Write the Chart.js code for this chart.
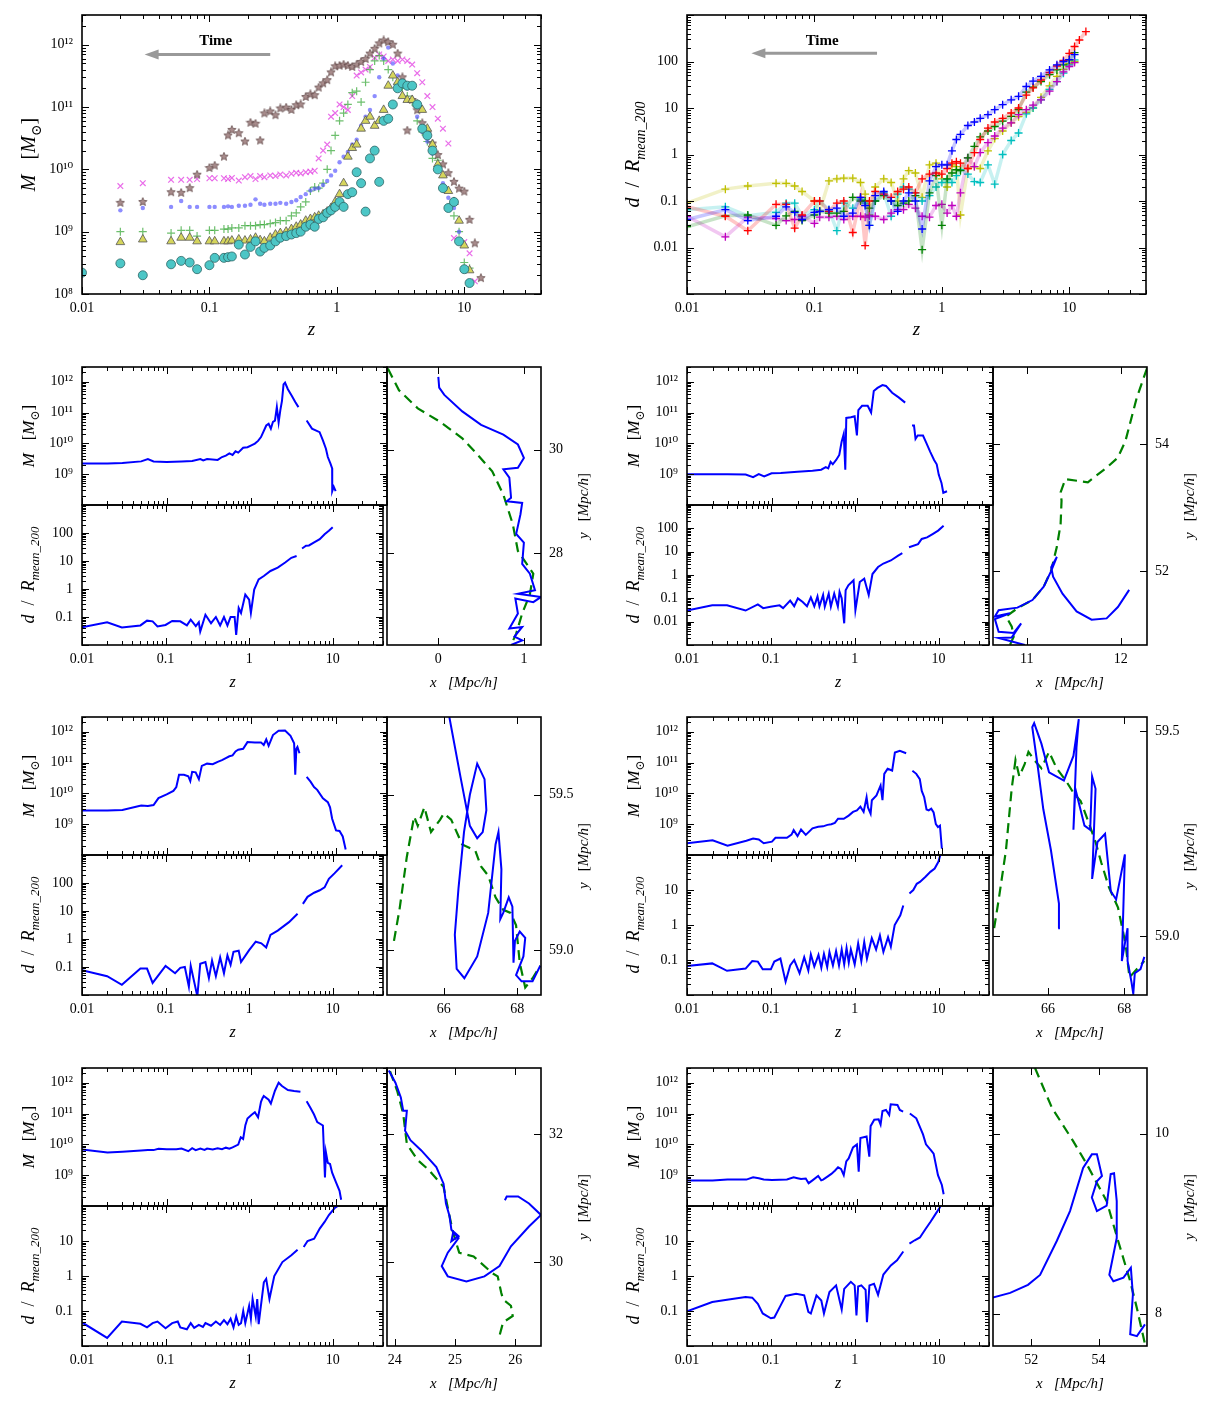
<!DOCTYPE html>
<html>
<head>
<meta charset="utf-8">
<title>Halo mass and distance histories</title>
<script src="https://cdn.jsdelivr.net/npm/chart.js@4.4.1/dist/chart.umd.min.js"></script>
<style>
  body { margin: 0; background: #fff; }
  #fig { position: relative; width: 1221px; height: 1405px; background: #fff; overflow: hidden; }
  #fig canvas { position: absolute; }
</style>
</head>
<body>
<div id="fig"></div>
<script>
// top left: mass of six haloes vs redshift
const zTop = [0.01, 0.02, 0.03, 0.05, 0.06, 0.07, 0.08, 0.1, 0.11, 0.13,
  0.14, 0.15, 0.17, 0.19, 0.21, 0.23, 0.25, 0.27, 0.3, 0.33,
  0.36, 0.4, 0.44, 0.48, 0.52, 0.57, 0.62, 0.67, 0.72, 0.78,
  0.84, 0.9, 0.97, 1.05, 1.13, 1.22, 1.32, 1.43, 1.55, 1.68,
  1.82, 1.98, 2.15, 2.33, 2.53, 2.75, 3.0, 3.27, 3.57, 3.9,
  4.27, 4.68, 5.13, 5.63, 6.2, 6.8, 7.5, 8.3, 9.1, 10.0,
  11.0, 12.1, 13.5];

const massCross = [null, 5.4e9, 6.0e9, 6.8e9, 6.8e9, 6.8e9, 7.0e9, 7.2e9, 7.2e9, 7.2e9,
  7.0e9, 7.3e9, 6.6e9, 7.5e9, 7.8e9, 7.0e9, 7.8e9, 7.5e9, 8.0e9, 7.8e9,
  8.3e9, 8.0e9, 8.5e9, 8.8e9, 8.6e9, 9.0e9, 9.2e9, 9.5e9, 1.5e10, 2.0e10,
  2.5e10, 7.0e10, 8.0e10, 1.1e11, 1.0e11, 9.0e10, 1.5e11, 3.2e11, 3.6e11, 4.0e11,
  4.4e11, 6.2e11, 7.0e11, 6.5e11, 5.5e11, 5.8e11, 5.5e11, 5.8e11, 5.5e11, 4.8e11,
  3.5e11, 2.5e11, 1.5e11, 1.0e11, 6.5e10, 4.5e10, 2.6e10, 7.9e8, null, 6.8e8,
  4.5e8, 1.6e8, null];
const massStar = [null, 2.9e9, 3.0e9, 4.3e9, 4.2e9, 5.0e9, 8.2e9, 1.05e10, 1.15e10, 1.6e10,
  3.5e10, 4.3e10, 3.8e10, 2.8e10, 5.6e10, 5.4e10, 2.9e10, 7.9e10, 8.5e10, 7.4e10,
  9.5e10, 9.8e10, 9.0e10, 1.07e11, 1.1e11, 1.45e11, 1.6e11, 1.55e11, 2.05e11, 2.4e11,
  2.7e11, 3.6e11, 4.5e11, 4.6e11, 4.8e11, 4.6e11, 4.4e11, 4.8e11, 5.3e11, 5.9e11,
  7.2e11, 8.6e11, 1.05e12, 1.17e12, 1.1e12, 1.0e12, 7.2e11, 3.0e11, 4.2e10, 1.3e11,
  8.9e10, 5.5e10, 3.8e10, 2.6e10, 1.7e10, 1.2e10, 8.7e9, 6.3e9, 4.9e9, 4.4e9,
  1.55e9, 6.5e8, 1.8e8];
const massDot = [null, 2.2e9, 2.4e9, 2.5e9, 3.1e9, 2.5e9, 2.5e9, 2.5e9, 2.5e9, 2.5e9,
  2.55e9, 2.5e9, 2.6e9, 2.6e9, 2.7e9, 3.3e9, 2.8e9, 2.7e9, 2.8e9, 2.8e9,
  2.9e9, 2.8e9, 3.0e9, 3.2e9, 3.6e9, 4.0e9, 4.6e9, 4.9e9, 5.0e9, 5.6e9,
  6.5e9, 8.0e9, 9.5e9, 1.3e10, 1.6e10, 1.9e10, 2.5e10, 3.0e10, 5.0e10, 7.0e10,
  9.0e10, 1.5e11, 3.0e11, 6.0e11, 9.0e11, 5.0e11, 3.2e11, 2.6e11, 2.0e11, 1.3e11,
  7.0e10, 4.0e10, 2.8e10, 1.8e10, 1.2e10, 6.0e9, 3.5e9, 2.4e9, 1.0e9, 2.6e8,
  null, null, null];
const massPlus = [null, 1.0e9, 1.0e9, 9.5e8, 1.05e9, 1.05e9, 8.5e8, 1.05e9, 1.05e9, 1.1e9,
  1.1e9, 1.15e9, 1.15e9, 1.25e9, 1.25e9, 1.25e9, 1.3e9, 1.3e9, 1.35e9, 1.4e9,
  1.5e9, 1.5e9, 1.8e9, 2.0e9, 2.5e9, 3.0e9, 4.5e9, 5.2e9, 5.0e9, 6.0e9,
  1.0e10, 2.0e10, 3.5e10, 6.0e10, 8.0e10, 1.1e11, 1.7e11, 1.8e11, 1.2e11, 2.5e11,
  4.0e11, 5.5e11, 6.7e11, 5.5e11, 4.0e11, 3.0e11, 2.4e11, 2.0e11, 1.5e11, 1.2e11,
  6.0e10, 4.0e10, 2.8e10, 1.5e10, 1.4e10, 5.0e9, 2.5e9, 1.8e9, 1.0e9, 3.2e8,
  2.6e8, null, null];
const massTri = [null, 6.8e8, 7.5e8, 7.0e8, 8.0e8, 8.0e8, 7.0e8, 7.0e8, 7.0e8, 7.0e8,
  7.0e8, 7.2e8, 7.5e8, 7.2e8, 7.5e8, 8.0e8, 7.3e8, 7.0e8, 8.0e8, 9.0e8,
  9.5e8, 1.0e9, 1.1e9, 1.2e9, 1.3e9, 1.5e9, 1.6e9, 1.7e9, 1.8e9, 1.9e9,
  2.1e9, 2.4e9, 3.0e9, 4.0e9, 6.0e9, 1.6e10, 2.2e10, 2.5e10, 4.5e10, 6.0e10,
  7.0e10, 5.0e10, 6.0e10, 9.0e10, 2.2e11, 3.2e11, 2.5e11, 1.5e11, 1.3e11, 1.3e11,
  1.1e11, 9.0e10, 4.5e10, 2.5e10, 1.2e10, 8.0e9, 4.5e9, 3.0e9, 1.5e9, 6.0e8,
  2.4e8, null, null];
const massCirc = [2.2e8, 3.1e8, 2.0e8, 3.0e8, 3.4e8, 3.2e8, 2.5e8, 2.9e8, 3.8e8, 3.8e8,
  3.9e8, 4.0e8, 6.2e8, 4.3e8, 5.7e8, 7.0e8, 4.8e8, 5.5e8, 6.0e8, 7.0e8,
  8.0e8, 8.5e8, 9.0e8, 9.5e8, 1.0e9, 1.2e9, 1.3e9, 1.2e9, 1.6e9, 1.7e9,
  2.0e9, 2.2e9, 2.5e9, 3.0e9, 2.5e9, 4.0e9, 4.3e9, 9.0e9, 6.0e9, 2.1e9,
  1.5e10, 2.0e10, 6.3e9, 6.0e10, 6.5e10, 1.1e11, 2.0e11, 2.4e11, 2.2e11, 2.2e11,
  1.1e11, 4.5e10, 3.5e10, 2.0e10, 1.0e10, 5.0e9, 2.4e9, 3.0e9, 7.0e8, 2.5e8,
  1.5e8, null, null];

// top right: distance in units of R_mean_200
const zDist = [0.01, 0.02, 0.03, 0.05, 0.06, 0.07, 0.08, 0.1, 0.11, 0.13,
  0.15, 0.17, 0.2, 0.23, 0.25, 0.27, 0.3, 0.35, 0.4, 0.45,
  0.5, 0.55, 0.62, 0.7, 0.8, 0.9, 1.0, 1.1, 1.2, 1.3,
  1.4, 1.6, 1.8, 2.0, 2.3, 2.6, 3.0, 3.5, 4.0, 4.6,
  5.2, 6.0, 7.0, 8.0, 9.0, 10.0, 11.0, 12.0, 13.5];

const distYellow = [0.09, 0.18, 0.21, 0.24, 0.24, 0.21, 0.16, 0.1, 0.06, 0.27,
  0.3, 0.31, 0.31, 0.25, 0.14, 0.05, 0.2, 0.3, 0.25, 0.1,
  0.3, 0.45, 0.4, 0.12, 0.6, 0.65, 0.3, 0.2, 0.6, 0.55,
  0.05, 0.5, 0.55, 0.5, 1.2, 2.2, 3.2, 4.8, 6.5, 8,
  10, 17, 30, 48, 68, 90, 100, null, null];
const distRed = [0.075, 0.047, 0.023, 0.085, 0.085, 0.026, 0.05, 0.1, 0.1, 0.06,
  0.09, 0.1, 0.021, 0.12, 0.011, 0.1, 0.16, 0.14, 0.12, 0.16,
  0.18, 0.2, 0.15, 0.3, 0.38, 0.4, 0.38, 0.5, 0.65, 0.7,
  0.65, 0.5, 1.1, 2.1, 3.7, 5, 6, 7.8, 10, 19,
  27, 40, 58, 80, 105, 150, 210, 290, 440];
const distBlue = [0.04, 0.065, 0.038, 0.047, 0.075, 0.057, 0.04, 0.057, 0.06, 0.065,
  0.07, 0.047, 0.055, 0.12, 0.08, 0.03, 0.13, 0.16, 0.1, 0.06,
  0.1, 0.15, 0.1, 0.025, 0.27, 0.55, 0.6, 0.6, 1.2, 2.1,
  2.7, 4.2, 5, 6, 7.2, 9.2, 11.8, 15, 17.8, 29,
  38, 48, 66, 85, 100, 110, 140, null, null];
const distGreen = [0.028, 0.048, 0.05, 0.03, 0.048, 0.06, 0.038, 0.05, 0.06, 0.055,
  0.055, 0.06, 0.12, 0.1, 0.1, 0.07, 0.1, 0.13, 0.1, 0.08,
  0.09, 0.1, 0.13, 0.009, 0.15, 0.35, 0.03, 0.3, 0.4, 0.47,
  0.45, 0.85, 1.5, 2.4, 3.2, 4, 5.2, 6.6, 9.2, 22,
  28, 37, 52, 66, 85, 108, 155, null, null];
const distCyan = [0.065, 0.075, 0.048, 0.057, 0.09, 0.09, 0.048, 0.065, 0.1, 0.065,
  0.023, 0.09, 0.07, 0.11, 0.09, 0.03, 0.1, 0.15, 0.047, 0.14,
  0.2, 0.18, 0.15, 0.1, 0.13, 0.2, 0.25, 0.29, 0.25, 0.35,
  0.47, 0.38, 0.26, 0.25, 0.6, 0.23, 1.0, 2.0, 2.9, 7.5,
  10, 15, 25, 37, 56, 85, 108, null, null];
const distMagenta = [0.047, 0.017, 0.045, 0.042, 0.038, 0.04, 0.047, 0.033, 0.045, 0.045,
  0.047, 0.04, 0.047, 0.047, 0.045, 0.048, 0.047, 0.04, 0.055, 0.065,
  0.065, 0.085, 0.07, 0.047, 0.045, 0.08, 0.085, 0.055, 0.08, 0.047,
  0.15, 0.85, 0.55, 1.1, 1.8, 2.5, 3.7, 4.8, 7.2, 9.2,
  11.5, 15, 23, 37, 60, 78, 95, null, null];

// tick labels
const zLabels = [0.01, 0.1, 1, 10];
const massLabelsTop = [1e8, 1e9, 1e10, 1e11, 1e12];
const massLabels = [1e9, 1e10, 1e11, 1e12];
const distLabelsTop = [0.01, 0.1, 1, 10, 100];

// six single haloes: [z, value] pairs, null marks the break in the track
const massA = [[0.01, 2.2e9], [0.02, 2.2e9], [0.03, 2.3e9], [0.05, 2.6e9], [0.06, 3.1e9], [0.07, 2.6e9], [0.1, 2.5e9], [0.15, 2.6e9], [0.2, 2.7e9], [0.25, 3.1e9], [0.27, 2.8e9], [0.3, 3.1e9], [0.4, 2.9e9], [0.45, 3.6e9], [0.5, 4.0e9], [0.55, 4.7e9], [0.6, 4.2e9], [0.65, 5.5e9], [0.7, 5.0e9], [0.8, 7.2e9], [0.9, 7.5e9], [1.0, 8.6e9], [1.1, 9.8e9], [1.2, 1.2e10], [1.3, 1.6e10], [1.5, 3.8e10], [1.6, 4.3e10], [1.7, 3.0e10], [1.8, 5.0e10], [1.9, 5.5e10], [2.0, 1.5e11], [2.1, 4.8e10], [2.2, 1.2e11], [2.3, 2.4e11], [2.4, 8.2e11], [2.5, 9.3e11], [2.7, 5.7e11], [3.0, 3.5e11], [3.3, 2.2e11], [3.6, 1.5e11], [4.0, null], [4.5, 5.5e10], [5.2, 3.0e10], [6.4, 2.3e10], [7.0, 1.25e10], [7.6, 6.7e9], [8.0, 3.6e9], [8.6, 2.2e9], [9.0, 1.55e9], [9.02, 2.8e8], [9.4, 3.9e8], [9.9, 2.8e8]];
const distA = [[0.01, 0.043], [0.02, 0.065], [0.03, 0.042], [0.05, 0.05], [0.06, 0.074], [0.07, 0.07], [0.08, 0.046], [0.1, 0.052], [0.12, 0.072], [0.15, 0.07], [0.18, 0.05], [0.2, 0.08], [0.23, 0.047], [0.25, 0.065], [0.26, 0.03], [0.3, 0.12], [0.35, 0.06], [0.4, 0.1], [0.45, 0.05], [0.5, 0.1], [0.55, 0.05], [0.6, 0.1], [0.67, 0.1], [0.7, 0.023], [0.75, 0.21], [0.8, 0.14], [0.9, 0.63], [1.0, 0.42], [1.05, 0.14], [1.15, 0.95], [1.3, 2.2], [1.5, 2.9], [1.8, 4.4], [2.2, 5.8], [2.7, 8.8], [3.2, 13], [3.7, 15], [4.0, null], [4.3, 28], [4.8, 35], [5.2, 36], [6.0, 46], [7.0, 60], [8.0, 90], [9.0, 120], [10.0, 160]];
const trackA = [[0, 31.41], [0.01, 31.2], [0.07, 31.06], [0.28, 30.74], [0.5, 30.48], [0.76, 30.29], [0.93, 30.1], [1.0, 29.84], [0.93, 29.65], [0.76, 29.62], [0.83, 29.46], [0.85, 29.07], [0.8, 29.0], [0.98, 28.97], [0.96, 28.75], [0.91, 28.37], [1.0, 28.2], [0.98, 27.79], [1.07, 27.6], [1.13, 27.28], [0.93, 27.21], [1.2, 27.15], [1.11, 27.05], [0.9, 27.12], [0.93, 26.83], [0.83, 26.54], [0.98, 26.57], [0.89, 26.38], [0.98, 26.31], [0.85, 26.22]];
const refA = [[-0.59, 31.57], [-0.46, 31.15], [-0.24, 30.8], [0.02, 30.54], [0.28, 30.22], [0.46, 29.9], [0.63, 29.58], [0.76, 29.13], [0.87, 28.56], [0.93, 28.04], [1.11, 27.6], [1.07, 27.2], [0.98, 26.83], [0.91, 26.44], [0.85, 26.22]];

const massB = [[0.01, 1.0e9], [0.02, 1.0e9], [0.03, 1.0e9], [0.049, 9.7e8], [0.06, 8.0e8], [0.07, 1.0e9], [0.081, 8.4e8], [0.099, 1.07e9], [0.127, 1.1e9], [0.2, 1.2e9], [0.3, 1.3e9], [0.38, 1.4e9], [0.43, 1.7e9], [0.46, 1.55e9], [0.49, 2.5e9], [0.52, 2.1e9], [0.57, 2.9e9], [0.62, 4.2e9], [0.66, 1.1e10], [0.7, 2.0e10], [0.73, 1.4e9], [0.75, 6.7e10], [0.85, 7.0e10], [0.94, 7.6e10], [1.0, 1.8e10], [1.04, 1.2e11], [1.15, 1.66e11], [1.34, 1.66e11], [1.47, 1.0e11], [1.58, 5.0e11], [1.75, 6.3e11], [2.0, 7.8e11], [2.2, 7.3e11], [2.6, 4.4e11], [3.1, 3.1e11], [3.7, 2.1e11], [4.0, null], [4.45, 3.8e10], [4.7, 3.8e10], [4.9, 1.4e10], [5.2, 1.8e10], [6.0, 1.8e10], [6.6, 1.0e10], [7.3, 5.3e9], [8.1, 2.9e9], [8.7, 2.1e9], [9.2, 9.5e8], [9.9, 5.2e8], [10.4, 2.5e8], [11.5, 2.8e8]];
const distB = [[0.01, 0.03], [0.02, 0.05], [0.03, 0.05], [0.05, 0.03], [0.07, 0.055], [0.081, 0.038], [0.099, 0.044], [0.127, 0.05], [0.14, 0.038], [0.17, 0.08], [0.19, 0.046], [0.21, 0.1], [0.24, 0.07], [0.27, 0.046], [0.3, 0.11], [0.33, 0.046], [0.36, 0.12], [0.38, 0.046], [0.42, 0.14], [0.44, 0.044], [0.49, 0.16], [0.52, 0.044], [0.57, 0.16], [0.63, 0.044], [0.66, 0.19], [0.7, 0.1], [0.75, 0.0085], [0.78, 0.22], [0.84, 0.36], [0.97, 0.6], [1.02, 0.031], [1.15, 0.5], [1.3, 0.7], [1.47, 0.14], [1.63, 1.1], [1.9, 2.2], [2.2, 3.1], [2.7, 4.2], [3.3, 6.8], [3.7, 8.6], [4.0, null], [4.45, 15.5], [5.7, 21], [6.3, 35], [7.3, 41], [8.5, 57], [9.9, 80], [11.5, 130]];
const trackB = [[12.09, 51.7], [11.97, 51.43], [11.85, 51.25], [11.69, 51.23], [11.53, 51.36], [11.38, 51.64], [11.28, 51.91], [11.26, 52.06], [11.32, 52.22], [11.26, 52.0], [11.18, 51.75], [11.06, 51.54], [10.9, 51.42], [10.7, 51.38], [10.66, 51.28], [10.82, 51.33], [10.66, 51.24], [10.7, 51.04], [10.86, 51.02], [10.94, 51.17], [10.84, 50.95], [10.7, 50.94], [10.98, 50.83]];
const refB = [[12.28, 55.2], [12.17, 54.73], [12.05, 54.05], [11.97, 53.79], [11.85, 53.63], [11.65, 53.4], [11.41, 53.45], [11.36, 53.24], [11.37, 53.11], [11.36, 52.74], [11.32, 52.38], [11.26, 52.01], [11.18, 51.75], [11.06, 51.54], [10.9, 51.41], [10.78, 51.28], [10.84, 51.12], [10.86, 50.96], [10.82, 50.83]];

const massC = [[0.01, 2.8e9], [0.02, 2.8e9], [0.03, 2.9e9], [0.05, 4.0e9], [0.06, 3.9e9], [0.07, 4.2e9], [0.08, 7.0e9], [0.1, 9.2e9], [0.12, 1.2e10], [0.13, 1.6e10], [0.14, 4.0e10], [0.16, 4.0e10], [0.18, 3.6e10], [0.19, 2.5e10], [0.2, 5.0e10], [0.22, 4.8e10], [0.24, 2.9e10], [0.26, 7.8e10], [0.3, 9.2e10], [0.35, 8.8e10], [0.4, 1.05e11], [0.45, 1.2e11], [0.5, 1.4e11], [0.55, 1.6e11], [0.6, 1.7e11], [0.65, 2.3e11], [0.7, 2.6e11], [0.8, 2.8e11], [0.9, 4.6e11], [1.1, 4.5e11], [1.3, 4.5e11], [1.4, 3.7e11], [1.5, 5.6e11], [1.6, 3.5e11], [1.8, 7.8e11], [2.1, 1.07e12], [2.5, 1.1e12], [2.9, 7.3e11], [3.2, 4.2e11], [3.3, 4.0e10], [3.4, 2.8e11], [3.5, 3.2e11], [3.7, 2.0e11], [4.0, null], [4.5, 3.4e10], [5.0, 2.4e10], [5.5, 1.6e10], [6.0, 1.3e10], [7.0, 6.9e9], [8.0, 5.2e9], [8.5, 3.5e9], [9.0, 1.5e9], [10.0, 6.3e8], [11.0, 6.0e8], [12.0, 4.0e8], [13.0, 1.5e8]];
const distC = [[0.01, 0.076], [0.02, 0.047], [0.03, 0.023], [0.05, 0.088], [0.06, 0.088], [0.07, 0.027], [0.1, 0.11], [0.13, 0.06], [0.15, 0.093], [0.17, 0.1], [0.19, 0.02], [0.2, 0.11], [0.24, 0.009], [0.26, 0.13], [0.3, 0.15], [0.33, 0.04], [0.36, 0.17], [0.4, 0.047], [0.45, 0.22], [0.5, 0.06], [0.55, 0.26], [0.6, 0.12], [0.65, 0.35], [0.75, 0.38], [0.8, 0.15], [1.0, 0.4], [1.2, 0.8], [1.4, 0.7], [1.6, 0.5], [1.8, 1.4], [2.2, 2.0], [3.0, 4.0], [3.8, 8.0], [4.1, null], [4.4, 18], [5.0, 32], [6.0, 45], [7.0, 55], [8.0, 70], [9.0, 140], [10.5, 220], [13.0, 430]];
const trackC = [[66.15, 59.75], [66.45, 59.56], [66.71, 59.4], [66.91, 59.36], [67.06, 59.38], [67.16, 59.45], [67.11, 59.55], [66.91, 59.6], [66.71, 59.5], [66.55, 59.38], [66.4, 59.2], [66.3, 59.05], [66.35, 58.94], [66.56, 58.91], [66.91, 58.98], [67.21, 59.12], [67.41, 59.34], [67.49, 59.38], [67.57, 59.26], [67.54, 59.1], [67.62, 59.12], [67.77, 59.17], [67.87, 59.14], [67.9, 58.96], [67.94, 59.03], [68.07, 59.06], [68.22, 59.04], [68.17, 58.98], [67.97, 58.92], [68.12, 58.9], [68.42, 58.9], [68.63, 58.95]];
const refC = [[64.64, 59.03], [64.79, 59.13], [64.99, 59.3], [65.19, 59.43], [65.29, 59.4], [65.47, 59.46], [65.65, 59.38], [65.9, 59.42], [66.0, 59.44], [66.2, 59.42], [66.5, 59.34], [66.86, 59.32], [67.01, 59.27], [67.21, 59.24], [67.41, 59.17], [67.62, 59.13], [67.82, 59.12], [67.97, 59.08], [68.07, 58.96], [68.22, 58.88], [68.42, 58.91], [68.63, 58.95]];

const massD = [[0.01, 2.4e8], [0.02, 3.0e8], [0.03, 2.0e8], [0.05, 2.9e8], [0.06, 3.4e8], [0.07, 3.2e8], [0.08, 2.4e8], [0.1, 2.7e8], [0.11, 3.6e8], [0.15, 3.6e8], [0.17, 4.6e8], [0.18, 6.4e8], [0.2, 4.1e8], [0.22, 6.7e8], [0.25, 4.5e8], [0.3, 7.3e8], [0.35, 8.2e8], [0.4, 8.5e8], [0.45, 9.5e8], [0.5, 1.0e9], [0.55, 1.1e9], [0.6, 1.5e9], [0.7, 1.5e9], [0.8, 1.9e9], [0.9, 2.5e9], [1.0, 2.8e9], [1.1, 3.7e9], [1.2, 2.5e9], [1.3, 7.5e9], [1.35, 3.5e9], [1.45, 2.2e9], [1.5, 6.0e9], [1.7, 8.6e9], [1.9, 1.8e10], [2.0, 6.0e9], [2.1, 4.3e10], [2.3, 6.3e10], [2.6, 5.5e10], [2.8, 2.1e11], [3.2, 2.4e11], [3.8, 2.0e11], [4.1, null], [4.5, 5.4e10], [5.0, 4.3e10], [5.5, 2.9e10], [5.8, 1.2e10], [6.2, 7.5e9], [6.6, 3.0e9], [7.0, 2.8e9], [7.5, 3.2e9], [8.0, 2.4e9], [8.5, 1.0e9], [9.0, 8.0e8], [9.5, 9.0e8], [10.0, 1.6e8]];
const distD = [[0.01, 0.067], [0.02, 0.08], [0.03, 0.049], [0.05, 0.057], [0.06, 0.093], [0.07, 0.09], [0.08, 0.054], [0.1, 0.054], [0.11, 0.09], [0.13, 0.11], [0.15, 0.024], [0.17, 0.07], [0.19, 0.1], [0.22, 0.042], [0.25, 0.12], [0.28, 0.05], [0.3, 0.145], [0.33, 0.065], [0.37, 0.14], [0.4, 0.06], [0.43, 0.15], [0.47, 0.063], [0.5, 0.17], [0.55, 0.07], [0.6, 0.18], [0.65, 0.07], [0.7, 0.2], [0.75, 0.075], [0.8, 0.22], [0.85, 0.085], [0.9, 0.2], [1.0, 0.075], [1.1, 0.3], [1.2, 0.093], [1.3, 0.33], [1.4, 0.11], [1.6, 0.42], [1.8, 0.2], [2.0, 0.5], [2.2, 0.17], [2.5, 0.45], [2.7, 0.24], [3.0, 1.0], [3.5, 1.9], [3.8, 3.6], [4.1, null], [4.5, 8], [5.0, 10], [5.5, 15], [6.0, 17], [7.0, 24], [8.0, 33], [9.0, 41], [10.0, 65], [10.5, 100]];
const trackD = [[66.27, 59.02], [66.29, 59.08], [66.08, 59.21], [65.88, 59.31], [65.74, 59.41], [65.59, 59.51], [65.64, 59.52], [65.83, 59.47], [66.03, 59.4], [66.42, 59.38], [66.67, 59.44], [66.81, 59.53], [66.75, 59.46], [66.67, 59.26], [66.72, 59.36], [66.96, 59.27], [67.11, 59.26], [67.16, 59.39], [67.25, 59.36], [67.16, 59.14], [67.3, 59.23], [67.5, 59.25], [67.65, 59.11], [67.79, 59.09], [68.02, 59.2], [67.94, 58.94], [68.09, 59.02], [68.09, 58.94], [68.19, 58.89], [68.24, 58.86], [68.28, 58.91], [68.43, 58.92], [68.53, 58.95]];
const refD = [[64.59, 59.02], [64.71, 59.09], [64.9, 59.21], [65.05, 59.36], [65.15, 59.43], [65.25, 59.39], [65.39, 59.42], [65.49, 59.45], [65.64, 59.43], [65.83, 59.41], [66.03, 59.45], [66.23, 59.41], [66.47, 59.38], [66.67, 59.35], [66.86, 59.33], [67.06, 59.28], [67.25, 59.23], [67.4, 59.18], [67.6, 59.12], [67.84, 59.07], [68.04, 58.98], [68.14, 58.9], [68.33, 58.92], [68.53, 58.94]];

const massE = [[0.01, 6.8e9], [0.02, 5.4e9], [0.03, 5.8e9], [0.05, 6.3e9], [0.06, 6.5e9], [0.07, 6.5e9], [0.08, 7.2e9], [0.1, 6.9e9], [0.13, 6.9e9], [0.15, 7.3e9], [0.18, 6.0e9], [0.2, 7.5e9], [0.22, 6.5e9], [0.25, 7.3e9], [0.28, 6.6e9], [0.3, 7.3e9], [0.35, 6.8e9], [0.4, 7.4e9], [0.45, 7.0e9], [0.5, 7.8e9], [0.55, 7.2e9], [0.6, 8.0e9], [0.7, 9.8e9], [0.75, 1.7e10], [0.8, 1.5e10], [0.85, 4.2e10], [0.9, 6.9e10], [1.0, 8.9e10], [1.1, 1.1e11], [1.2, 7.5e10], [1.3, 2.4e11], [1.35, 3.1e11], [1.4, 3.7e11], [1.6, 2.8e11], [1.7, 2.1e11], [1.9, 5.5e11], [2.1, 1.0e12], [2.3, 7.8e11], [2.7, 5.8e11], [3.2, 5.4e11], [3.8, 5.1e11], [4.1, null], [4.5, 2.5e11], [5.0, 1.5e11], [5.5, 9.3e10], [6.0, 5.3e10], [7.0, 4.1e10], [7.4, 8.4e8], [7.6, 5.5e9], [8.0, 2.5e9], [8.5, 2.3e9], [9.0, 1.2e9], [10.0, 5.8e8], [11.0, 3.1e8], [11.5, 1.6e8]];
const distE = [[0.01, 0.047], [0.02, 0.017], [0.03, 0.05], [0.05, 0.043], [0.06, 0.034], [0.07, 0.045], [0.08, 0.05], [0.1, 0.032], [0.12, 0.045], [0.14, 0.05], [0.15, 0.034], [0.18, 0.03], [0.2, 0.045], [0.22, 0.033], [0.25, 0.04], [0.28, 0.035], [0.3, 0.045], [0.35, 0.038], [0.4, 0.05], [0.45, 0.04], [0.5, 0.055], [0.55, 0.042], [0.6, 0.06], [0.65, 0.034], [0.7, 0.07], [0.75, 0.04], [0.8, 0.045], [0.85, 0.1], [0.9, 0.045], [1.0, 0.14], [1.05, 0.06], [1.1, 0.22], [1.2, 0.07], [1.25, 0.22], [1.3, 0.042], [1.5, 0.66], [1.6, 0.83], [1.75, 0.22], [2.0, 1.0], [2.5, 2.5], [3.2, 3.9], [3.8, 5.6], [4.1, null], [4.5, 6.7], [5.0, 10], [6.0, 11.7], [7.0, 22.6], [8.0, 35], [9.0, 55], [10.5, 86], [11.5, 100]];
const trackE = [[23.9, 33.0], [24.01, 32.81], [24.1, 32.58], [24.14, 32.37], [24.2, 32.37], [24.17, 32.06], [24.26, 31.91], [24.44, 31.75], [24.69, 31.49], [24.81, 31.23], [24.85, 30.92], [24.91, 30.72], [24.94, 30.51], [25.06, 30.41], [24.94, 30.33], [24.97, 30.47], [25.06, 30.38], [24.88, 30.15], [24.78, 29.94], [24.88, 29.78], [25.19, 29.7], [25.49, 29.78], [25.74, 29.94], [25.93, 30.25], [26.23, 30.56], [26.43, 30.74], [26.23, 30.92], [26.05, 31.03], [25.86, 31.03], [25.83, 30.97]];
const refE = [[23.92, 32.99], [24.04, 32.68], [24.14, 32.32], [24.2, 31.85], [24.38, 31.6], [24.57, 31.44], [24.81, 31.18], [24.91, 30.72], [24.97, 30.46], [25.07, 30.15], [25.31, 30.09], [25.43, 29.99], [25.62, 29.83], [25.71, 29.78], [25.77, 29.52], [25.8, 29.42], [25.93, 29.32], [25.96, 29.16], [25.8, 29.06], [25.74, 28.85]];

const massF = [[0.01, 6.7e8], [0.02, 6.7e8], [0.03, 7.3e8], [0.05, 7.2e8], [0.06, 8.6e8], [0.07, 8.0e8], [0.08, 7.2e8], [0.1, 7.0e8], [0.15, 7.3e8], [0.18, 8.6e8], [0.2, 8.0e8], [0.22, 7.5e8], [0.25, 7.8e8], [0.27, 5.5e8], [0.3, 6.8e8], [0.35, 9.4e8], [0.38, 6.8e8], [0.4, 7.2e8], [0.45, 9.0e8], [0.5, 1.1e9], [0.55, 1.4e9], [0.6, 1.8e9], [0.65, 1.6e9], [0.7, 1.0e9], [0.75, 2.8e9], [0.8, 3.5e9], [0.9, 8.0e9], [1.0, 1.0e10], [1.05, 1.3e9], [1.1, 1.6e10], [1.3, 1.8e10], [1.4, 4.0e9], [1.45, 3.9e10], [1.6, 6.3e10], [1.8, 6.5e10], [1.9, 4.4e10], [2.0, 1.2e11], [2.2, 1.3e11], [2.4, 9.0e10], [2.5, 2.0e11], [3.0, 1.9e11], [3.2, 1.3e11], [3.5, 1.15e11], [3.9, null], [4.2, 1.0e11], [5.0, 7.0e10], [6.0, 2.1e10], [6.5, 1.0e10], [7.5, 6.3e9], [8.0, 5.0e9], [9.0, 1.0e9], [10.0, 4.8e8], [10.5, 2.4e8]];
const distF = [[0.01, 0.098], [0.02, 0.18], [0.03, 0.21], [0.05, 0.25], [0.06, 0.24], [0.07, 0.16], [0.08, 0.085], [0.1, 0.062], [0.11, 0.065], [0.13, 0.14], [0.15, 0.27], [0.2, 0.31], [0.25, 0.28], [0.28, 0.095], [0.3, 0.085], [0.35, 0.28], [0.4, 0.2], [0.43, 0.085], [0.5, 0.35], [0.6, 0.54], [0.7, 0.11], [0.75, 0.43], [0.9, 0.68], [1.0, 0.54], [1.05, 0.075], [1.1, 0.5], [1.2, 0.54], [1.35, 0.4], [1.4, 0.048], [1.5, 0.54], [1.7, 0.6], [1.9, 0.29], [2.2, 1.1], [2.7, 2.0], [3.2, 2.8], [3.8, 5.0], [4.1, null], [4.5, 8.4], [5.2, 10.5], [6.0, 12.6], [7.0, 22], [8.0, 35], [9.0, 54], [10.5, 95]];
const trackF = [[50.77, 8.17], [51.37, 8.23], [51.9, 8.32], [52.26, 8.43], [52.76, 8.81], [53.15, 9.14], [53.54, 9.62], [53.8, 9.77], [53.95, 9.77], [54.1, 9.53], [53.95, 9.47], [53.8, 9.29], [53.95, 9.14], [54.24, 9.2], [54.36, 9.55], [54.46, 9.56], [54.54, 9.25], [54.54, 8.84], [54.32, 8.43], [54.44, 8.36], [54.74, 8.4], [54.96, 8.51], [55.02, 8.21], [54.94, 7.77], [55.14, 7.75], [55.38, 7.88]];
const refF = [[52.11, 10.73], [52.61, 10.29], [53.24, 9.92], [53.65, 9.66], [54.24, 9.25], [54.58, 8.81], [54.94, 8.36], [55.14, 8.06], [55.38, 7.66]];

const panels = [
  {col: 0, row: 0, mass: massA, dist: distA, track: trackA, ref: refA, dRange: [0.01, 1000], dLabels: [0.1, 1, 10, 100], xRange: [-0.6, 1.2], yRange: [26.22, 31.6], xTicks: [0, 1], yTicks: [28, 30], yDec: 0},
  {col: 1, row: 0, mass: massB, dist: distB, track: trackB, ref: refB, dRange: [0.001, 1000], dLabels: [0.01, 0.1, 1, 10, 100], xRange: [10.64, 12.28], yRange: [50.83, 55.22], xTicks: [11, 12], yTicks: [52, 54], yDec: 0},
  {col: 0, row: 1, mass: massC, dist: distC, track: trackC, ref: refC, dRange: [0.01, 1000], dLabels: [0.1, 1, 10, 100], xRange: [64.45, 68.65], yRange: [58.856, 59.75], xTicks: [66, 68], yTicks: [59.0, 59.5], yDec: 1},
  {col: 1, row: 1, mass: massD, dist: distD, track: trackD, ref: refD, dRange: [0.01, 100], dLabels: [0.1, 1, 10], xRange: [64.56, 68.6], yRange: [58.857, 59.535], xTicks: [66, 68], yTicks: [59.0, 59.5], yDec: 1},
  {col: 0, row: 2, mass: massE, dist: distE, track: trackE, ref: refE, dRange: [0.01, 100], dLabels: [0.1, 1, 10], xRange: [23.87, 26.43], yRange: [28.69, 33.04], xTicks: [24, 25, 26], yTicks: [30, 32], yDec: 0},
  {col: 1, row: 2, mass: massF, dist: distF, track: trackF, ref: refF, dRange: [0.01, 100], dLabels: [0.1, 1, 10], xRange: [50.86, 55.44], yRange: [7.64, 10.73], xTicks: [52, 54], yTicks: [8, 10], yDec: 0}
];

// layout of the figure (plot area edges in page pixels)
const COLS = [{l: 82, d: 387, r: 541}, {l: 687, d: 993, r: 1147}];
const ROWS = [{t: 367, m: 505, b: 645}, {t: 717, m: 855, b: 995}, {t: 1068, m: 1206, b: 1346}];
const EDGE = 20; // spare room round a plot so Chart.js does not shift it

const SERIF = "'Liberation Serif', 'DejaVu Serif', serif";
const SUP = '⁰¹²³⁴⁵⁶⁷⁸⁹';
const powFmt = v => '10' + String(Math.round(Math.log10(v))).split('').map(d => SUP[+d]).join('');
const decFmt = v => v >= 1 ? String(Math.round(v)) : String(+v.toPrecision(1));

function logTicks(min, max) {
  const out = [];
  const e0 = Math.floor(Math.log10(min) + 1e-9), e1 = Math.ceil(Math.log10(max) - 1e-9);
  for (let e = e0; e <= e1; e++) {
    for (let k = 1; k <= 9; k++) {
      const v = parseFloat((k * Math.pow(10, e)).toPrecision(6));
      if (v >= min * (1 - 1e-9) && v <= max * (1 + 1e-9)) out.push({value: v, major: k === 1});
    }
  }
  return out;
}

function scaleOpts(o) {
  const shown = o.shown || [];
  const isLog = o.type === 'logarithmic';
  return {
    type: o.type, position: o.pos, min: o.min, max: o.max,
    afterBuildTicks: s => { s.ticks = isLog ? logTicks(o.min, o.max) : o.ticks.map(v => ({value: v, major: true})); },
    afterFit: s => { if (s.isHorizontal()) s.height = o.size; else s.width = o.size; },
    grid: {display: false, drawTicks: false},
    border: {display: false},
    ticks: {
      display: !!o.fmt, autoSkip: false, maxRotation: 0, minRotation: 0,
      padding: o.pad ?? 6, color: '#000',
      font: {family: SERIF, size: o.fs || 14},
      callback: v => (o.fmt && shown.some(s => Math.abs(s - v) <= Math.abs(s) * 1e-6)) ? o.fmt(v) : ''
    },
    title: o.title
      ? {display: true, text: o.title, color: '#000', font: {family: SERIF, size: o.ts || 16, style: 'italic'}, padding: {top: 0, bottom: o.tp || 0}}
      : {display: false}
  };
}

// text with italic / upright parts and subscripts
function richText(ctx, segs, size, cx, cy, rot) {
  ctx.save();
  ctx.translate(cx, cy);
  ctx.rotate(rot);
  ctx.fillStyle = '#000';
  ctx.textBaseline = 'alphabetic';
  ctx.textAlign = 'left';
  const parts = segs.map(s => {
    const fs = s.sub ? Math.round(size * 0.7) : size;
    const font = (s.up ? '' : 'italic ') + fs + 'px ' + SERIF;
    ctx.font = font;
    return {t: s.t, font, w: ctx.measureText(s.t).width, dy: s.sub ? size * 0.28 : 0};
  });
  let x = -parts.reduce((acc, p) => acc + p.w, 0) / 2;
  for (const p of parts) {
    ctx.font = p.font;
    ctx.fillText(p.t, x, size * 0.35 + p.dy);
    x += p.w;
  }
  ctx.restore();
}

const massTitle = [{t: 'M'}, {t: '   [', up: true}, {t: 'M'}, {t: '⊙', sub: true, up: true}, {t: ']', up: true}];
const distTitle = [{t: 'd'}, {t: '  /  ', up: true}, {t: 'R'}, {t: 'mean_200', sub: true}];
const posTitle = [{t: 'y'}, {t: '   [', up: true}, {t: 'Mpc/h'}, {t: ']', up: true}];

const yTitle = (segs, size, dist) => ({
  id: 'yTitle',
  afterDraw(chart) {
    const a = chart.chartArea;
    richText(chart.ctx, segs, size, a.left - dist, (a.top + a.bottom) / 2, -Math.PI / 2);
  }
});
const rightTitle = (segs, size, dist) => ({
  id: 'rightTitle',
  afterDraw(chart) {
    const a = chart.chartArea;
    richText(chart.ctx, segs, size, a.right + dist, (a.top + a.bottom) / 2, -Math.PI / 2);
  }
});
const timeArrow = (zFrom, zTo, yArrow, zText, yText) => ({
  id: 'timeArrow',
  afterDatasetsDraw(chart) {
    const {ctx, scales: {x, y}} = chart;
    const x0 = x.getPixelForValue(zFrom), x1 = x.getPixelForValue(zTo), yy = y.getPixelForValue(yArrow);
    ctx.save();
    ctx.strokeStyle = '#999';
    ctx.fillStyle = '#999';
    ctx.lineWidth = 3;
    ctx.beginPath();
    ctx.moveTo(x0, yy);
    ctx.lineTo(x1 + 10, yy);
    ctx.stroke();
    ctx.beginPath();
    ctx.moveTo(x1, yy);
    ctx.lineTo(x1 + 14, yy - 5);
    ctx.lineTo(x1 + 14, yy + 5);
    ctx.closePath();
    ctx.fill();
    ctx.fillStyle = '#000';
    ctx.font = 'bold 15px ' + SERIF;
    ctx.textAlign = 'center';
    ctx.textBaseline = 'middle';
    ctx.fillText('Time', x.getPixelForValue(zText), y.getPixelForValue(yText));
    ctx.restore();
  }
});

// inward ticks on all four sides and a black frame
Chart.register({
  id: 'mplFrame',
  afterDraw(chart) {
    const {ctx, chartArea: a} = chart;
    ctx.save();
    ctx.strokeStyle = '#000';
    ctx.lineWidth = 1;
    for (const s of Object.values(chart.scales)) {
      for (const t of s.ticks) {
        const p = Math.round(s.getPixelForValue(t.value)) + 0.5;
        const len = t.major ? 7 : 4;
        ctx.beginPath();
        if (s.isHorizontal()) {
          if (p < a.left || p > a.right + 1) continue;
          ctx.moveTo(p, a.bottom); ctx.lineTo(p, a.bottom - len);
          ctx.moveTo(p, a.top); ctx.lineTo(p, a.top + len);
        } else {
          if (p < a.top || p > a.bottom + 1) continue;
          ctx.moveTo(a.left, p); ctx.lineTo(a.left + len, p);
          ctx.moveTo(a.right, p); ctx.lineTo(a.right - len, p);
        }
        ctx.stroke();
      }
    }
    ctx.lineWidth = 1.6;
    ctx.strokeRect(a.left, a.top, a.right - a.left, a.bottom - a.top);
    ctx.restore();
  }
});

const fig = document.getElementById('fig');
function addChart(box, pad, datasets, scales, plugins) {
  const c = document.createElement('canvas');
  c.width = box.w;
  c.height = box.h;
  Object.assign(c.style, {left: box.x + 'px', top: box.y + 'px', width: box.w + 'px', height: box.h + 'px'});
  fig.appendChild(c);
  return new Chart(c, {
    type: 'scatter',
    data: {datasets},
    options: {
      responsive: false, animation: false, devicePixelRatio: 1, events: [],
      layout: {padding: pad},
      plugins: {legend: {display: false}, tooltip: {enabled: false}},
      scales
    },
    plugins: plugins || []
  });
}

const toPts = (xs, ys) => xs.map((x, i) => ({x, y: ys[i]})).filter(p => p.y !== null);
const pairPts = arr => arr.map(([x, y]) => ({x, y}));

function makeStar(size, fill, stroke) {
  const c = document.createElement('canvas');
  c.width = c.height = size;
  const g = c.getContext('2d');
  const cx = size / 2, cy = size / 2, R = size / 2 - 0.6, r = R * 0.45;
  g.beginPath();
  for (let i = 0; i < 10; i++) {
    const ang = -Math.PI / 2 + i * Math.PI / 5, rr = i % 2 ? r : R;
    g.lineTo(cx + rr * Math.cos(ang), cy + rr * Math.sin(ang));
  }
  g.closePath();
  g.fillStyle = fill;
  g.fill();
  g.lineWidth = 0.7;
  g.strokeStyle = stroke;
  g.stroke();
  return c;
}

//Top left panel: mass histories
addChart({x: 0, y: 15 - EDGE, w: 82 + 459 + EDGE, h: EDGE + 279 + 55}, {top: EDGE, right: EDGE},
  [
    {data: toPts(zTop, massCirc), pointStyle: 'circle', pointRadius: 4.5, pointBackgroundColor: '#4cc6c6', pointBorderColor: '#2e6666', pointBorderWidth: 0.8, clip: 0},
    {data: toPts(zTop, massTri), pointStyle: 'triangle', pointRadius: 5, pointBackgroundColor: '#d5d55c', pointBorderColor: '#555', pointBorderWidth: 0.8, clip: 0},
    {data: toPts(zTop, massStar), pointStyle: makeStar(10, '#a88c8c', '#5a4040'), clip: 0},
    {data: toPts(zTop, massDot), pointStyle: 'circle', pointRadius: 2.2, pointBackgroundColor: 'rgba(80,80,255,0.65)', pointBorderWidth: 0, clip: 0},
    {data: toPts(zTop, massPlus), pointStyle: 'cross', pointRadius: 4, pointBorderColor: 'rgba(60,170,60,0.75)', pointBorderWidth: 1.2, clip: 0},
    {data: toPts(zTop, massCross), pointStyle: 'crossRot', pointRadius: 4, pointBorderColor: 'rgba(225,60,225,0.75)', pointBorderWidth: 1.2, clip: 0}
  ],
  {
    x: scaleOpts({type: 'logarithmic', pos: 'bottom', min: 0.01, max: 40, shown: zLabels, fmt: decFmt, size: 55, pad: 6, title: 'z', ts: 19, tp: 8}),
    y: scaleOpts({type: 'logarithmic', pos: 'left', min: 1e8, max: 3e12, shown: massLabelsTop, fmt: powFmt, size: 82, pad: 9})
  },
  [yTitle(massTitle, 20, 54), timeArrow(0.3, 0.031, 7e11, 0.112, 1.15e12)]
);

//Top right panel: distance histories
const distSeries = [
  [distBlue, '0,0,255'], [distRed, '255,0,0'], [distGreen, '0,128,0'],
  [distMagenta, '191,0,191'], [distCyan, '0,191,191'], [distYellow, '191,191,0']
];
addChart({x: 600, y: 15 - EDGE, w: 87 + 459 + EDGE, h: EDGE + 279 + 55}, {top: EDGE, right: EDGE},
  distSeries.map(([vals, rgb]) => ({
    data: toPts(zDist, vals), showLine: true,
    borderColor: `rgba(${rgb},0.22)`, borderWidth: 3.5,
    pointStyle: 'cross', pointRadius: 4, pointBorderColor: `rgb(${rgb})`, pointBorderWidth: 1.3,
    pointBackgroundColor: 'transparent', clip: 0
  })),
  {
    x: scaleOpts({type: 'logarithmic', pos: 'bottom', min: 0.01, max: 40, shown: zLabels, fmt: decFmt, size: 55, pad: 6, title: 'z', ts: 19, tp: 8}),
    y: scaleOpts({type: 'logarithmic', pos: 'left', min: 0.001, max: 1000, shown: distLabelsTop, fmt: decFmt, size: 87, pad: 9})
  },
  [yTitle(distTitle, 20, 55), timeArrow(0.31, 0.032, 150, 0.115, 270)]
);

//Single halo panels: mass, distance and position
panels.forEach(p => {
  const c = COLS[p.col], r = ROWS[p.row];
  const w = c.d - c.l;
  const blueLine = arr => ({data: pairPts(arr), showLine: true, borderColor: '#0000ff', borderWidth: 2, pointRadius: 0, spanGaps: false, clip: 0});

  addChart({x: c.l - 82, y: r.t - EDGE, w: 82 + w + 2, h: EDGE + (r.m - r.t) + EDGE}, {top: EDGE, right: 2, bottom: EDGE},
    [blueLine(p.mass)],
    {
      x: scaleOpts({type: 'logarithmic', pos: 'bottom', min: 0.01, max: 40, size: 0}),
      y: scaleOpts({type: 'logarithmic', pos: 'left', min: 1e8, max: 3e12, shown: massLabels, fmt: powFmt, size: 82, pad: 9})
    },
    [yTitle(massTitle, 17, 54)]
  );

  addChart({x: c.l - 82, y: r.m - EDGE, w: 82 + w + 2, h: EDGE + (r.b - r.m) + 50}, {top: EDGE, right: 2},
    [blueLine(p.dist)],
    {
      x: scaleOpts({type: 'logarithmic', pos: 'bottom', min: 0.01, max: 40, shown: zLabels, fmt: decFmt, size: 50, pad: 6, title: 'z', ts: 16, tp: 3}),
      y: scaleOpts({type: 'logarithmic', pos: 'left', min: p.dRange[0], max: p.dRange[1], shown: p.dLabels, fmt: decFmt, size: 82, pad: 9})
    },
    [yTitle(distTitle, 18, 54)]
  );

  addChart({x: c.d - EDGE, y: r.t - EDGE, w: EDGE + (c.r - c.d) + 60, h: EDGE + (r.b - r.t) + 50}, {top: EDGE, left: EDGE},
    [
      {data: pairPts(p.track), showLine: true, borderColor: '#0000ff', borderWidth: 2, pointRadius: 0, clip: 0},
      {data: pairPts(p.ref), showLine: true, borderColor: '#008000', borderWidth: 2.2, borderDash: [10, 6], pointRadius: 0, clip: 0}
    ],
    {
      x: scaleOpts({type: 'linear', pos: 'bottom', min: p.xRange[0], max: p.xRange[1], ticks: p.xTicks, shown: p.xTicks, fmt: v => String(v), size: 50, pad: 6, title: 'x   [Mpc/h]', ts: 15, tp: 3}),
      y: scaleOpts({type: 'linear', pos: 'right', min: p.yRange[0], max: p.yRange[1], ticks: p.yTicks, shown: p.yTicks, fmt: v => v.toFixed(p.yDec), size: 60, pad: 8})
    },
    [rightTitle(posTitle, 15, 42)]
  );
});
</script>
</body>
</html>
